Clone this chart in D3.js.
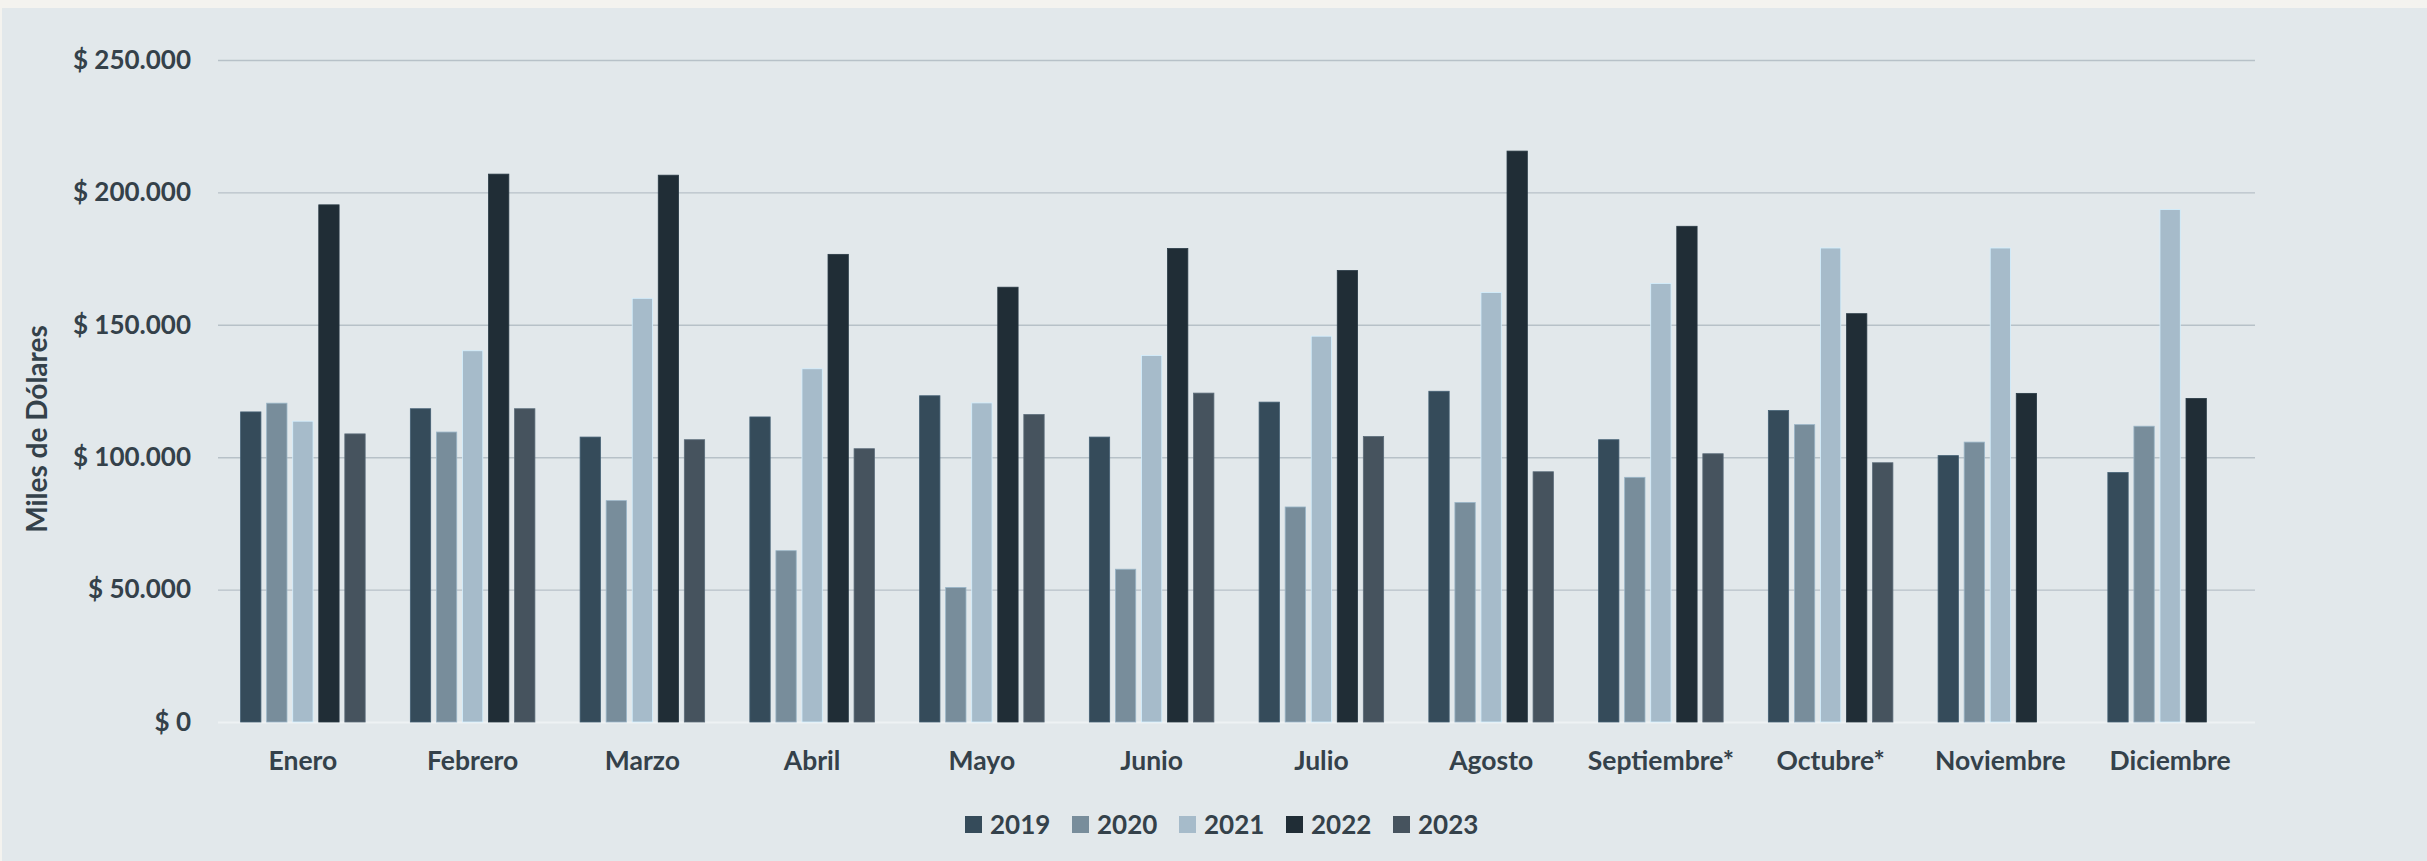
<!DOCTYPE html>
<html>
<head>
<meta charset="utf-8">
<script src="https://cdn.jsdelivr.net/npm/d3@7"></script>
<style>
html,body{margin:0;padding:0;background:#f4f3ef;}
svg{display:block;}
text{font-family:Lato,"Open Sans",sans-serif;font-weight:700;}
</style>
</head>
<body>
<svg id="chart" width="2427" height="861"></svg>
<script>
// ---- data ----
const months = ["Enero","Febrero","Marzo","Abril","Mayo","Junio","Julio","Agosto","Septiembre*","Octubre*","Noviembre","Diciembre"];
const years = ["2019","2020","2021","2022","2023"];
const values2019 = [117100,118300,107600,115200,123200,107600,120800,124900,106600,117600,100600,94200];
const values2020 = [120400,109500,83600,64700,50800,57700,81200,82900,92400,112300,105700,111700];
const values2021 = [113600,140200,160000,133400,120500,138400,145700,162200,165600,179000,179000,193500];
const values2022 = [195300,206900,206500,176600,164200,178800,170500,215600,187200,154200,124100,122200];
const values2023 = [108800,118300,106600,103200,116100,124200,107800,94500,101300,97900,null,null];
const yTicks = [0,50000,100000,150000,200000,250000];

const seriesValues = [values2019,values2020,values2021,values2022,values2023];
const colors = ["#354b5a","#788d9b","#a6bbca","#202d36","#46535e"];

// ---- layout ----
const W = 2427, H = 861;
const plot = {left:218, right:2255, top:60, bottom:722};
const textColor = "#34414a";

const svg = d3.select("#chart");
svg.append("rect").attr("x",2).attr("y",8).attr("width",W-2).attr("height",H-8).attr("fill","#e2e8eb");

const x0 = d3.scaleBand().domain(months).range([plot.left, plot.right]).padding(0);
const groupPad = 22.6;
const x1 = d3.scaleBand().domain(years).range([groupPad, x0.bandwidth()-groupPad]).paddingInner(0.22).paddingOuter(0);
const y = d3.scaleLinear().domain([0,250000]).range([plot.bottom, plot.top]);

const locale = d3.formatLocale({decimal:",", thousands:".", grouping:[3], currency:["$ ",""]});
const fmt = locale.format("$,.0f");

// gridlines + y tick labels
const yAxis = svg.append("g")
  .attr("transform",`translate(${plot.left},0)`)
  .call(d3.axisLeft(y).tickValues(yTicks).tickFormat(fmt).tickSize(-(plot.right-plot.left)).tickPadding(27));
yAxis.select(".domain").remove();
yAxis.selectAll(".tick line")
  .attr("stroke", d => d===0 ? "#eef2f4" : "#b7c1c8")
  .attr("stroke-width", d => d===0 ? 2 : 1.4);
yAxis.selectAll(".tick text")
  .attr("fill",textColor).style("font-size","26px").style("font-family","Lato, sans-serif").style("font-weight","700");

// bars
const rows = months.map((m,i)=>({month:m, vals: years.map((yr,j)=>({year:yr, value:seriesValues[j][i], color:colors[j]}))}));
const groups = svg.append("g").selectAll("g").data(rows).join("g")
  .attr("transform", d=>`translate(${x0(d.month)},0)`);
groups.selectAll("rect").data(d=>d.vals.filter(v=>v.value!=null)).join("rect")
  .attr("x", d=>x1(d.year))
  .attr("width", x1.bandwidth())
  .attr("y", d=>y(d.value))
  .attr("height", d=>y(0)-y(d.value))
  .attr("fill", d=>d.color)
  .attr("stroke", d=>d3.color(d.color).brighter(0.7))
  .attr("stroke-width", 0.8);

// x axis labels
const xAxis = svg.append("g")
  .attr("transform",`translate(0,${plot.bottom})`)
  .call(d3.axisBottom(x0).tickSize(0).tickPadding(29));
xAxis.select(".domain").remove();
xAxis.selectAll(".tick text")
  .attr("fill",textColor).style("font-size","26.5px").style("font-family","Lato, sans-serif").style("font-weight","700");

// y title
svg.append("text")
  .attr("transform","translate(47,429) rotate(-90)")
  .attr("text-anchor","middle")
  .attr("fill",textColor)
  .style("font-size","28px")
  .text("Miles de Dólares");

// legend
const legendStep = 107;
const legendX = 965, legendY = 816;
const legend = svg.append("g").selectAll("g").data(years).join("g")
  .attr("transform",(d,i)=>`translate(${legendX+i*legendStep},${legendY})`);
legend.append("rect").attr("width",17).attr("height",17).attr("fill",(d,i)=>colors[i]);
legend.append("text").attr("x",25).attr("y",18).attr("fill",textColor).style("font-size","26px").text(d=>d);
</script>
</body>
</html>
